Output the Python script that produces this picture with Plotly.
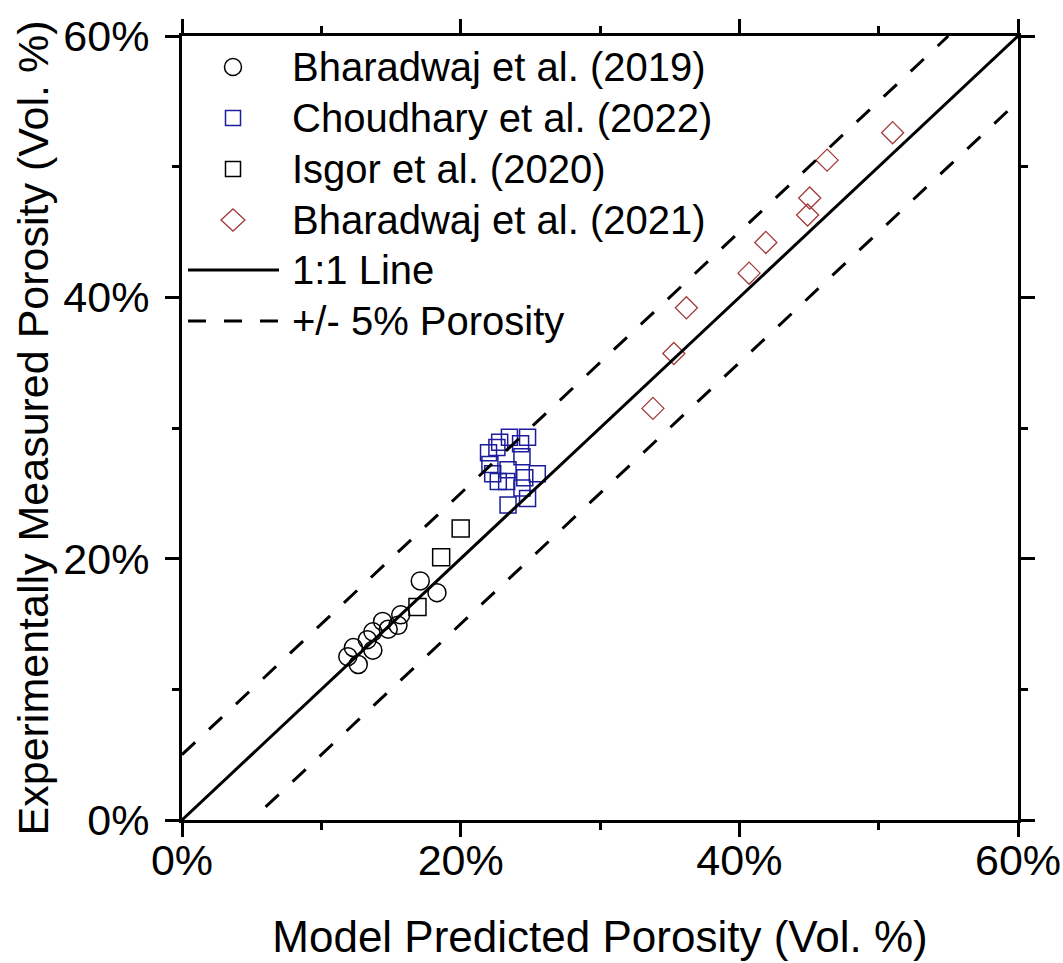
import plotly.graph_objects as go

# Model-predicted vs. experimentally measured porosity (Vol. %)
bh19_pred = [17.1, 18.3, 15.7, 15.5, 14.4, 13.7, 13.3, 13.7, 12.3, 11.9, 12.65, 14.8]
bh19_meas = [18.3, 17.4, 15.7, 14.9, 15.2, 14.4, 13.8, 13.0, 13.2, 12.5, 11.9, 14.6]

ch22_pred = [24.8, 23.5, 22.8, 22.6, 22.0, 22.1, 22.3, 23.4, 24.4, 24.3, 24.6, 25.5,
             24.4, 23.4, 24.8, 23.3, 22.7]
ch22_meas = [29.3, 29.3, 28.9, 28.5, 28.1, 27.2, 26.5, 26.8, 27.8, 28.8, 26.2, 26.5,
             25.4, 24.1, 24.6, 25.9, 25.9]

is20_pred = [16.9, 18.6, 20.0]
is20_meas = [16.3, 20.1, 22.3]

bh21_pred = [33.8, 35.3, 36.2, 40.7, 41.9, 44.9, 45.05, 46.3, 51.0]
bh21_meas = [31.5, 35.7, 39.2, 41.85, 44.2, 46.3, 47.6, 50.5, 52.6]

# Reference lines: 1:1 and +/- 5 % porosity bands
one_x, one_y = [0, 60], [0, 60]
up_x, up_y = [0, 55], [5, 60]
lo_x, lo_y = [6, 60], [1, 55]

tick_vals = [0, 20, 40, 60]
tick_text = ["0%", "20%", "40%", "60%"]

legend_labels = ["Bharadwaj et al. (2019)", "Choudhary et al. (2022)",
                 "Isgor et al. (2020)", "Bharadwaj et al. (2021)",
                 "1:1 Line", "+/- 5% Porosity"]

FONT = "Liberation Sans, Arial, sans-serif"
BLUE = "#1c1c9c"
RED = "#a33b3b"

W, H = 1063, 963
L, R, T, B = 182, 45, 36, 143
PW, PH = W - L - R, H - T - B


def px(x):
    return (x - L) / PW


def py(y):
    return (H - B - y) / PH


fig = go.Figure()

fig.add_trace(go.Scatter(x=bh19_pred, y=bh19_meas, mode="markers",
                         marker=dict(symbol="circle-open", size=18, color="black",
                                     line=dict(width=1.5, color="black"))))
fig.add_trace(go.Scatter(x=ch22_pred, y=ch22_meas, mode="markers",
                         marker=dict(symbol="square-open", size=16, color=BLUE,
                                     line=dict(width=1.5, color=BLUE))))
fig.add_trace(go.Scatter(x=is20_pred, y=is20_meas, mode="markers",
                         marker=dict(symbol="square-open", size=17, color="black",
                                     line=dict(width=1.5, color="black"))))
fig.add_trace(go.Scatter(x=bh21_pred, y=bh21_meas, mode="markers",
                         marker=dict(symbol="diamond-open", size=17, color=RED,
                                     line=dict(width=1.3, color=RED))))

fig.add_trace(go.Scatter(x=one_x, y=one_y, mode="lines",
                         line=dict(color="black", width=3)))
for xs, ys in [(up_x, up_y), (lo_x, lo_y)]:
    fig.add_trace(go.Scatter(x=xs, y=ys, mode="lines",
                             line=dict(color="black", width=3, dash="18px,19px")))

axis_common = dict(
    range=[0, 60], tickmode="array", tickvals=tick_vals, ticktext=tick_text,
    showline=True, linewidth=3, linecolor="black", mirror="allticks",
    ticks="outside", ticklen=14, tickwidth=3, tickcolor="black",
    minor=dict(dtick=10, ticks="outside", ticklen=7, tickwidth=3, tickcolor="black"),
    showgrid=False, zeroline=False,
    tickfont=dict(family=FONT, size=43, color="black"),
)

fig.update_xaxes(**axis_common, ticklabelstandoff=-14,
                 title=dict(text="Model Predicted Porosity (Vol. %)",
                            font=dict(family=FONT, size=44, color="black"), standoff=39))
fig.update_yaxes(**axis_common, ticklabelstandoff=7,
                 title=dict(text="Experimentally Measured Porosity (Vol. %)",
                            font=dict(family=FONT, size=43, color="black"), standoff=2))

# Legend drawn inside the upper-left corner of the axes
rows = [67, 118, 169, 220, 270, 321]
sym_x = 233
shapes = []
annotations = []
for lab, ry in zip(legend_labels, rows):
    annotations.append(dict(x=px(290), y=py(ry), xref="paper", yref="paper",
                            text=lab, showarrow=False, xanchor="left", yanchor="middle",
                            font=dict(family=FONT, size=40, color="black")))

r = 8.5
shapes.append(dict(type="circle", xref="paper", yref="paper",
                   x0=px(sym_x - r), x1=px(sym_x + r), y0=py(rows[0] - r), y1=py(rows[0] + r),
                   line=dict(color="black", width=1.5)))
s = 7.5
shapes.append(dict(type="rect", xref="paper", yref="paper",
                   x0=px(sym_x - s), x1=px(sym_x + s), y0=py(rows[1] - s), y1=py(rows[1] + s),
                   line=dict(color=BLUE, width=1.5)))
shapes.append(dict(type="rect", xref="paper", yref="paper",
                   x0=px(sym_x - s), x1=px(sym_x + s), y0=py(rows[2] - s), y1=py(rows[2] + s),
                   line=dict(color="black", width=1.5)))
dx, dy = 12, 11
cy = rows[3]
shapes.append(dict(type="path", xref="paper", yref="paper",
                   path=f"M {px(sym_x - dx)} {py(cy)} L {px(sym_x)} {py(cy - dy)} "
                        f"L {px(sym_x + dx)} {py(cy)} L {px(sym_x)} {py(cy + dy)} Z",
                   line=dict(color=RED, width=1.3)))
shapes.append(dict(type="line", xref="paper", yref="paper",
                   x0=px(188), x1=px(279), y0=py(rows[4]), y1=py(rows[4]),
                   line=dict(color="black", width=3)))
shapes.append(dict(type="line", xref="paper", yref="paper",
                   x0=px(188), x1=px(279), y0=py(rows[5]), y1=py(rows[5]),
                   line=dict(color="black", width=3, dash="18px,18px")))

fig.update_layout(
    width=W, height=H,
    margin=dict(l=L, r=R, t=T, b=B, autoexpand=False),
    paper_bgcolor="white", plot_bgcolor="white",
    showlegend=False,
    shapes=shapes, annotations=annotations,
)

fig.write_html("out.html")
